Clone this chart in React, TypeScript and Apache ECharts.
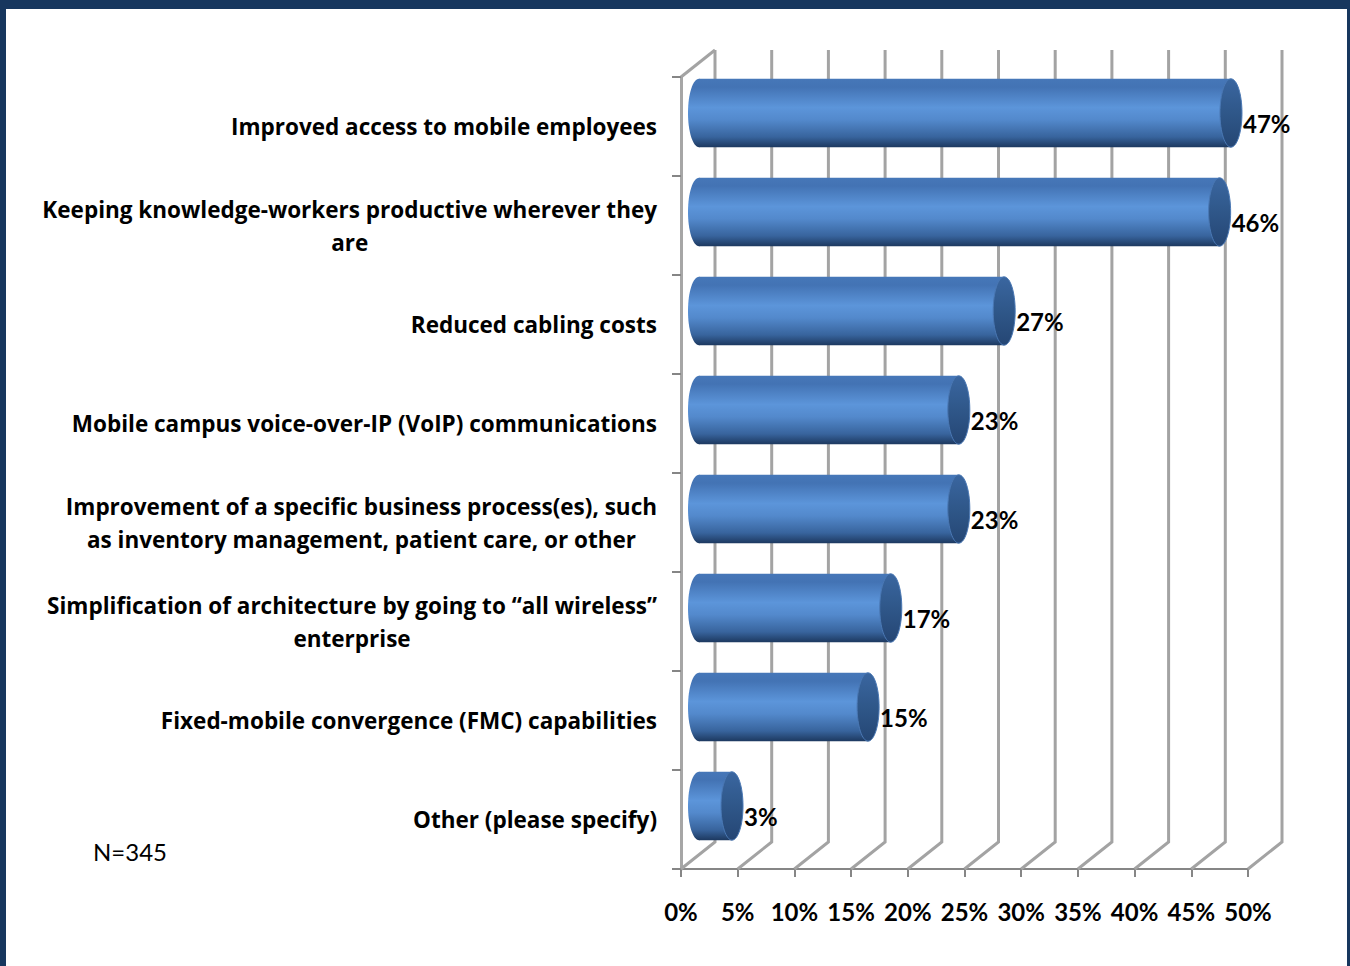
import React, { useEffect, useRef } from "react";
import * as echarts from "echarts";

const categories = [
  "Improved access to mobile employees",
  "Keeping knowledge-workers productive wherever they\nare",
  "Reduced cabling costs",
  "Mobile campus voice-over-IP (VoIP) communications",
  "Improvement of a specific business process(es), such\nas inventory management, patient care, or other",
  "Simplification of architecture by going to “all wireless”\nenterprise",
  "Fixed-mobile convergence (FMC) capabilities",
  "Other (please specify)",
];
const values = [47, 46, 27, 23, 23, 17, 15, 3];
const gridValues = [0, 5, 10, 15, 20, 25, 30, 35, 40, 45, 50];
const noteText = "N=345";

const FONT = "Lato, 'DejaVu Sans', sans-serif";
const CAT_FONT = "'Open Sans', Lato, sans-serif";
const DX = 34;
const DY = 27;
const FRONT = { left: 681, top: 77, width: 567, height: 792 };

export default function App() {
  const ref = useRef<HTMLDivElement>(null);
  useEffect(() => {
    if (!ref.current) return;
    const chart = echarts.init(ref.current, undefined, { renderer: "svg" });
    const barGrad = new echarts.graphic.LinearGradient(0, 0, 0, 1, [
      { offset: 0, color: "#4677b8" },
      { offset: 0.12, color: "#4373b4" },
      { offset: 0.42, color: "#5c95da" },
      { offset: 0.6, color: "#5389cc" },
      { offset: 0.85, color: "#38649d" },
      { offset: 1, color: "#1d3960" },
    ]);
    const capGrad = new echarts.graphic.LinearGradient(0, 0, 0, 1, [
      { offset: 0, color: "#3a66a0" },
      { offset: 0.5, color: "#2f5789" },
      { offset: 1, color: "#254674" },
    ]);
    chart.setOption({
      animation: false,
      backgroundColor: "#ffffff",
      grid: [
        { ...FRONT, containLabel: false },
        {
          left: FRONT.left + DX,
          top: FRONT.top - DY,
          width: FRONT.width,
          height: FRONT.height,
          containLabel: false,
        },
      ],
      xAxis: [
        {
          type: "value",
          gridIndex: 0,
          min: 0,
          max: 50,
          interval: 5,
          axisLine: { show: true, lineStyle: { color: "#868686", width: 2 } },
          axisTick: { show: true, length: 8, lineStyle: { color: "#868686", width: 2 } },
          splitLine: { show: false },
          axisLabel: {
            formatter: "{value}%",
            margin: 30,
            color: "#000",
            fontFamily: FONT,
            fontWeight: "bold",
            fontSize: 24,
          },
        },
        {
          type: "value",
          gridIndex: 1,
          min: 0,
          max: 50,
          interval: 5,
          show: false,
        },
      ],
      yAxis: [
        {
          type: "category",
          gridIndex: 0,
          data: categories,
          inverse: true,
          axisLine: { show: true, lineStyle: { color: "#a6a6a6", width: 3 } },
          axisTick: { show: true, length: 9, lineStyle: { color: "#868686", width: 2 } },
          axisLabel: {
            margin: 24,
            color: "#000",
            formatter: (v: string) =>
              v
                .split("\n")
                .map((l) => `{c|${l}}`)
                .join("\n"),
            rich: {
              c: {
                align: "center",
                fontFamily: CAT_FONT,
                fontWeight: "bold",
                fontSize: 22.5,
                lineHeight: 33,
                color: "#000",
              },
            },
          },
        },
        { type: "value", gridIndex: 1, min: 0, max: 1, show: false },
      ],
      series: [
        {
          type: "custom",
          xAxisIndex: 1,
          yAxisIndex: 1,
          silent: true,
          z: 1,
          data: gridValues.map((v) => [v]),
          renderItem: (params: any, api: any) => {
            const v = api.value(0);
            const bb = api.coord([v, 0]);
            const bt = api.coord([v, 1]);
            const children: any[] = [
              {
                type: "polyline",
                shape: {
                  points: [
                    [bb[0] - DX, bb[1] + DY],
                    bb,
                    bt,
                  ],
                },
                style: { stroke: "#a3a3a3", lineWidth: 3, fill: null },
              },
            ];
            if (v === 0) {
              children.push({
                type: "line",
                shape: { x1: bt[0] - DX, y1: bt[1] + DY, x2: bt[0], y2: bt[1] },
                style: { stroke: "#a3a3a3", lineWidth: 3 },
              });
            }
            return { type: "group", children };
          },
        },
        {
          type: "custom",
          xAxisIndex: 0,
          yAxisIndex: 0,
          z: 5,
          data: values.map((v, i) => [v, i]),
          renderItem: (params: any, api: any) => {
            const v = api.value(0);
            const c = api.value(1);
            const p0 = api.coord([0, c]);
            const p1 = api.coord([v, c]);
            const band = api.size([0, 1])[1];
            const h = band * 0.69;
            const rx = 11;
            const cy = p0[1] - DY / 2;
            const x0 = p0[0] + DX / 2 + 1;
            const x1 = p1[0] + DX / 2;
            return {
              type: "group",
              children: [
                {
                  type: "ellipse",
                  shape: { cx: x0, cy, rx, ry: h / 2 },
                  style: { fill: barGrad },
                },
                {
                  type: "rect",
                  shape: { x: x0, y: cy - h / 2, width: Math.max(0, x1 - x0), height: h },
                  style: { fill: barGrad },
                },
                {
                  type: "ellipse",
                  shape: { cx: x1, cy, rx, ry: h / 2 },
                  style: { fill: capGrad, stroke: "#4a78b4", lineWidth: 1 },
                },
                {
                  type: "text",
                  style: {
                    x: x1 + rx + 1,
                    y: p1[1] - 3,
                    text: `${v}%`,
                    fill: "#000",
                    font: `bold 24px ${FONT}`,
                    verticalAlign: "middle",
                    align: "left",
                  },
                },
              ],
            };
          },
        },
      ],
      graphic: [
        {
          type: "text",
          left: 93,
          top: 839,
          style: { text: noteText, fill: "#000", font: `24px ${FONT}` },
        },
        { type: "rect", shape: { x: 0, y: 0, width: 1350, height: 9 }, style: { fill: "#17375e" } },
        { type: "rect", shape: { x: 0, y: 0, width: 6, height: 966 }, style: { fill: "#17375e" } },
        { type: "rect", shape: { x: 1347, y: 0, width: 3, height: 966 }, style: { fill: "#17375e" } },
      ],
    });
    return () => chart.dispose();
  }, []);
  return (
    <div
      ref={ref}
      style={{ position: "absolute", left: 0, top: 0, width: 1350, height: 966 }}
    />
  );
}
